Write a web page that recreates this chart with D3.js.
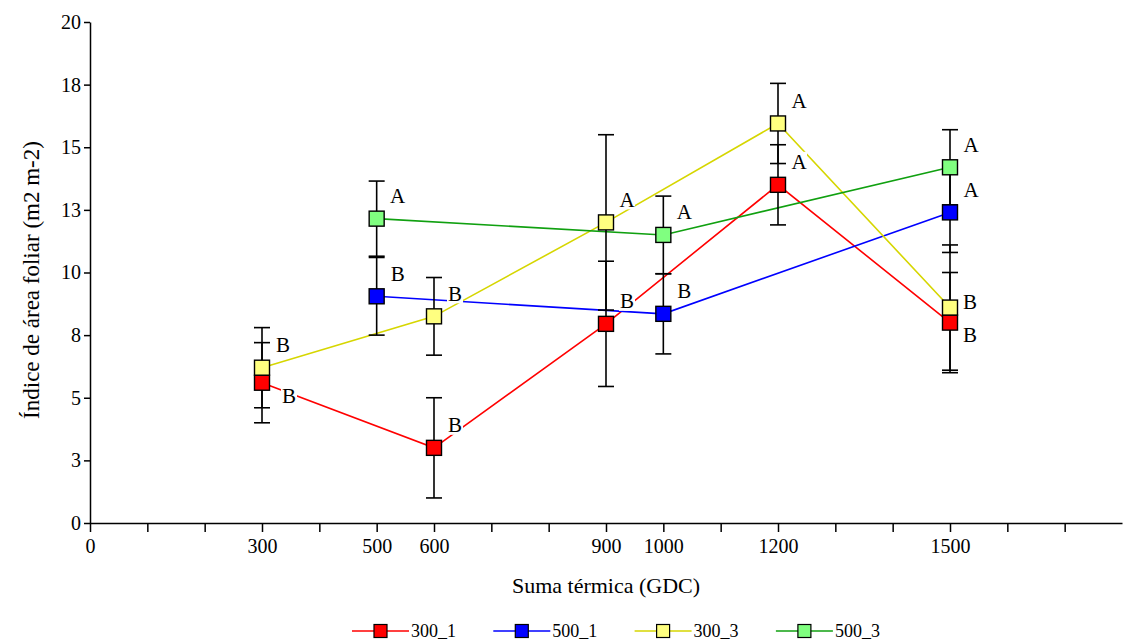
<!DOCTYPE html>
<html>
<head>
<meta charset="utf-8">
<script src="https://cdn.jsdelivr.net/npm/d3@7"></script>
<style>
	body { margin: 0; background: #fff; }
	#chart { width: 1125px; height: 644px; }
	svg text { font-family: 'Liberation Serif', 'Times New Roman', Times, 'DejaVu Serif', serif !important; fill: #000; }
	.axis path, .axis line { stroke: #000; stroke-width: 1.5px; }
</style>
</head>
<body>
<div id="chart"></div>
<script>

// series names + colours (fill of the marker / colour of the line)
const seriesNames = ["300_1", "500_1", "300_3", "500_3"];
const fillColors = ["#ff0000", "#0000ff", "#ffff80", "#80ff80"];
const lineColors = ["#ff0000", "#0000ff", "#d6d600", "#10a010"];

// values (mean, error, significance letter)
const x300_1 = [300, 600, 900, 1200, 1500];
const y300_1 = [5.6, 3.0, 7.95, 13.5, 8.0];
const e300_1 = [1.6, 2.0, 2.5, 1.6, 2.0];
const l300_1 = ["B", "B", "B", "A", "B"];

const x500_1 = [500, 1000, 1500];
const y500_1 = [9.05, 8.35, 12.4];
const e500_1 = [1.55, 1.6, 1.6];
const l500_1 = ["B", "B", "A"];

const x300_3 = [300, 600, 900, 1200, 1500];
const y300_3 = [6.2, 8.25, 12.0, 15.95, 8.6];
const e300_3 = [1.6, 1.55, 3.5, 1.6, 2.5];
const l300_3 = ["B", "B", "A", "A", "B"];

const x500_3 = [500, 1000, 1500];
const y500_3 = [12.15, 11.5, 14.2];
const e500_3 = [1.5, 1.55, 1.5];
const l500_3 = ["A", "A", "A"];

// axis ticks
const xTickValues = [0, 100, 200, 300, 400, 500, 600, 700, 800, 900, 1000, 1100, 1200, 1300, 1400, 1500, 1600, 1700];
const xTickLabels = [0, 300, 500, 600, 900, 1000, 1200, 1500];
const yTickValues = [0, 2.5, 5, 7.5, 10, 12.5, 15, 17.5, 20];
const yTickLabels = ["0", "3", "5", "8", "10", "13", "15", "18", "20"];


class LeafAreaChart {

	constructor(parentElement) {
		this.parentElement = parentElement;
		this.xData = [x300_1, x500_1, x300_3, x500_3];
		this.yData = [y300_1, y500_1, y300_3, y500_3];
		this.eData = [e300_1, e500_1, e300_3, e500_3];
		this.lData = [l300_1, l500_1, l300_3, l500_3];
		this.displayData = [];
		this.initVis();
	}

	initVis() {
		let vis = this;

		vis.margin = {top: 22, right: 3, bottom: 121, left: 90};
		vis.width = 1125 - vis.margin.left - vis.margin.right;
		vis.height = 644 - vis.margin.top - vis.margin.bottom;

		vis.root = d3.select("#" + vis.parentElement).append("svg")
			.attr("width", 1125)
			.attr("height", 644);

		vis.svg = vis.root.append("g")
			.attr("transform", "translate(" + vis.margin.left + "," + vis.margin.top + ")");

		vis.x = d3.scaleLinear()
			.domain([0, 1800])
			.range([0, vis.width]);

		vis.y = d3.scaleLinear()
			.domain([0, 20])
			.range([vis.height, 0]);

		vis.xAxis = d3.axisBottom(vis.x)
			.tickValues(xTickValues)
			.tickSize(9)
			.tickSizeOuter(0)
			.tickPadding(7)
			.tickFormat(d => xTickLabels.includes(d) ? d : "");

		vis.yAxis = d3.axisLeft(vis.y)
			.tickValues(yTickValues)
			.tickSize(6)
			.tickSizeOuter(0)
			.tickPadding(3)
			.tickFormat((d, i) => yTickLabels[i]);

		vis.svg.append("g")
			.attr("class", "x-axis axis")
			.attr("transform", "translate(0," + vis.height + ")");

		vis.svg.append("g")
			.attr("class", "y-axis axis");

		// axis titles
		vis.svg.append("text")
			.attr("x", 516)
			.attr("y", vis.height + 70)
			.attr("text-anchor", "middle")
			.style("font-size", "22px")
			.text("Suma térmica (GDC)");

		vis.svg.append("text")
			.attr("transform", "translate(-59," + 258 + ") rotate(-90)")
			.attr("text-anchor", "middle")
			.attr("dominant-baseline", "central")
			.style("font-size", "23px")
			.text("Índice de área foliar (m2 m-2)");

		vis.line = d3.line()
			.x(d => vis.x(d.x))
			.y(d => vis.y(d.y));

		// letters that sit below the point instead of above it
		vis.labelNudge = {
			"300_1@300": [27, 13],
			"300_1@1500": [20, 12],
			"300_3@1500": [20, -6]
		};

		vis.wrangleData();
	}

	wrangleData() {
		let vis = this;

		vis.displayData = seriesNames.map((name, s) => ({
			key: name,
			index: s,
			values: vis.xData[s].map((xv, i) => ({
				key: name, s: s, x: xv, y: vis.yData[s][i], err: vis.eData[s][i], letter: vis.lData[s][i]
			}))
		}));

		vis.allPoints = vis.displayData.flatMap(d => d.values);

		vis.updateVis();
	}

	updateVis() {
		let vis = this;

		vis.svg.select(".x-axis").call(vis.xAxis);
		vis.svg.select(".y-axis").call(vis.yAxis);
		vis.svg.selectAll(".axis").attr("font-family", null);
		vis.svg.selectAll(".axis text").style("font-size", "20px");

		// lines
		vis.svg.selectAll(".series-line")
			.data(vis.displayData)
			.enter().append("path")
			.attr("class", "series-line")
			.attr("fill", "none")
			.attr("stroke", d => lineColors[d.index])
			.attr("stroke-width", 1.6)
			.attr("d", d => vis.line(d.values));

		// significance letters (white box hides the lines behind)
		let labels = vis.svg.selectAll(".letter")
			.data(vis.allPoints)
			.enter().append("g")
			.attr("class", "letter")
			.attr("transform", d => {
				let n = vis.labelNudge[d.key + "@" + d.x] || [21, -23];
				return "translate(" + (vis.x(d.x) + n[0]) + "," + (vis.y(d.y) + n[1]) + ")";
			});

		labels.append("rect")
			.attr("x", -8).attr("y", -10)
			.attr("width", 16).attr("height", 20)
			.attr("fill", "#fff");

		labels.append("text")
			.attr("text-anchor", "middle")
			.attr("dy", "0.36em")
			.style("font-size", "21px")
			.text(d => d.letter);

		// error bars
		let bars = vis.svg.selectAll(".errbar")
			.data(vis.allPoints)
			.enter().append("g")
			.attr("class", "errbar")
			.attr("stroke", "#000")
			.attr("stroke-width", 1.6);

		bars.append("line")
			.attr("x1", d => vis.x(d.x)).attr("x2", d => vis.x(d.x))
			.attr("y1", d => vis.y(d.y - d.err)).attr("y2", d => vis.y(d.y + d.err));

		bars.append("line")
			.attr("x1", d => vis.x(d.x) - 8).attr("x2", d => vis.x(d.x) + 8)
			.attr("y1", d => vis.y(d.y + d.err)).attr("y2", d => vis.y(d.y + d.err));

		bars.append("line")
			.attr("x1", d => vis.x(d.x) - 8).attr("x2", d => vis.x(d.x) + 8)
			.attr("y1", d => vis.y(d.y - d.err)).attr("y2", d => vis.y(d.y - d.err));

		// square markers
		vis.svg.selectAll(".marker")
			.data(vis.allPoints)
			.enter().append("rect")
			.attr("class", "marker")
			.attr("x", d => vis.x(d.x) - 7.5)
			.attr("y", d => vis.y(d.y) - 7.5)
			.attr("width", 15)
			.attr("height", 15)
			.attr("fill", d => fillColors[d.s])
			.attr("stroke", "#000")
			.attr("stroke-width", 1.4);

		// legend
		let legend = vis.root.append("g")
			.attr("transform", "translate(352,631)");

		let item = legend.selectAll(".legend-item")
			.data(seriesNames)
			.enter().append("g")
			.attr("class", "legend-item")
			.attr("transform", (d, i) => "translate(" + (i * 141.3) + ",0)");

		item.append("line")
			.attr("x1", 0).attr("x2", 57)
			.attr("stroke", (d, i) => lineColors[i])
			.attr("stroke-width", 1.5);

		item.append("rect")
			.attr("x", 22).attr("y", -6.5)
			.attr("width", 13).attr("height", 13)
			.attr("fill", (d, i) => fillColors[i])
			.attr("stroke", "#000")
			.attr("stroke-width", 1.2);

		item.append("text")
			.attr("x", 59)
			.attr("dy", "0.36em")
			.style("font-size", "18px")
			.text(d => d);
	}
}

new LeafAreaChart("chart");

</script>
</body>
</html>
